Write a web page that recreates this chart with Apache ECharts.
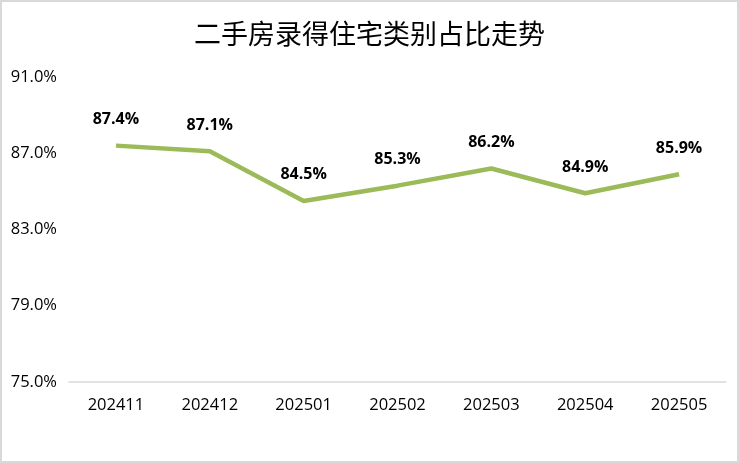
<!DOCTYPE html>
<html><head><meta charset="utf-8">
<script src="https://cdn.jsdelivr.net/npm/echarts@6/dist/echarts.min.js"></script>
<style>
html,body{margin:0;padding:0;background:#fff;}
#c{width:740px;height:463px;box-sizing:border-box;border:2px solid #d9d9d9;border-right-width:3px;}
</style></head>
<body><div id="c"></div>
<script>
const categories = ['202411','202412','202501','202502','202503','202504','202505'];
const shareValues = [87.4, 87.1, 84.5, 85.3, 86.2, 84.9, 85.9];
const yTicks = {min: 75, max: 91, interval: 4};

const chart = echarts.init(document.getElementById('c'));
chart.setOption({
  animation: false,
  title: {
    text: '二手房录得住宅类别占比走势',
    left: 'center', top: 13,
    textStyle: {fontFamily: 'Noto Sans CJK SC', fontWeight: 'normal', fontSize: 27, color: '#000'}
  },
  grid: {left: 67, right: 11, top: 75, bottom: 79},
  xAxis: {
    type: 'category', data: categories, boundaryGap: true,
    axisLine: {lineStyle: {color: '#d9d9d9', width: 1.5}},
    axisTick: {show: false},
    axisLabel: {color: '#000', fontFamily: 'Open Sans', fontSize: 16.5, margin: 15}
  },
  yAxis: {
    type: 'value', min: yTicks.min, max: yTicks.max, interval: yTicks.interval,
    axisLine: {show: false}, axisTick: {show: false}, splitLine: {show: false},
    axisLabel: {color: '#000', fontFamily: 'Open Sans', fontSize: 16.5, margin: 12,
      formatter: v => v.toFixed(1) + '%'}
  },
  series: [{
    type: 'line', data: shareValues, symbol: 'circle', symbolSize: 2, showSymbol: true,
    itemStyle: {color: 'rgba(0,0,0,0)'},
    lineStyle: {color: '#9bbb59', width: 4.5},
    label: {show: true, position: 'top', distance: 17, color: '#000',
      fontFamily: 'Open Sans', fontWeight: 'bold', fontSize: 16,
      formatter: p => p.value.toFixed(1) + '%'}
  }]
});
</script></body></html>
